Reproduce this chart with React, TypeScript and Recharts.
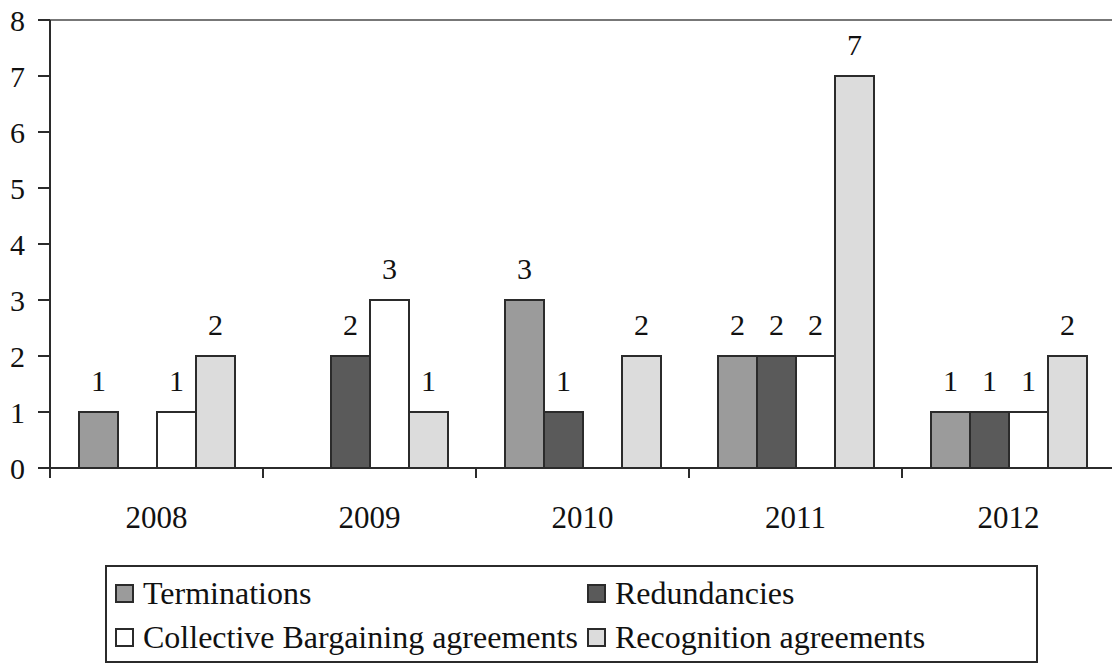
import { Bar, BarChart, LabelList, Legend, ReferenceLine, XAxis, YAxis } from 'recharts'

const years = ['2008', '2009', '2010', '2011', '2012']
const terminations = [1, 0, 3, 2, 1]
const redundancies = [0, 2, 1, 2, 1]
const collective = [1, 3, 0, 2, 1]
const recognition = [2, 1, 2, 7, 2]
const yTicks = [0, 1, 2, 3, 4, 5, 6, 7, 8]

const series = [
  { key: 'terminations', name: 'Terminations', fill: '#9b9b9b' },
  { key: 'redundancies', name: 'Redundancies', fill: '#5a5a5a' },
  { key: 'collective', name: 'Collective Bargaining agreements', fill: '#ffffff' },
  { key: 'recognition', name: 'Recognition agreements', fill: '#dcdcdc' },
]

const data = years.map((year, i) => ({
  year,
  terminations: terminations[i],
  redundancies: redundancies[i],
  collective: collective[i],
  recognition: recognition[i],
}))

const FONT = "'Liberation Serif', Tinos, 'Times New Roman', Times, 'DejaVu Serif', serif"
const INK = '#2b2b2b'

const CHART_W = 1115
const Y_AXIS_W = 50
const BAND = (CHART_W - Y_AXIS_W) / years.length

function YearTick(props: any) {
  const { x, y, payload, index } = props
  return (
    <g>
      {index === 0 && (
        <line x1={x - BAND / 2} x2={x - BAND / 2} y1={y} y2={y + 10} stroke={INK} strokeWidth={2} />
      )}
      <line x1={x + BAND / 2} x2={x + BAND / 2} y1={y} y2={y + 10} stroke={INK} strokeWidth={2} />
      <text x={x} y={y + 60} textAnchor="middle" style={{ fontSize: 31, fontFamily: FONT }} fill="#111">
        {payload.value}
      </text>
    </g>
  )
}

function LegendBox() {
  const cols = [8, 480]
  return (
    <div
      style={{
        position: 'relative',
        width: 933,
        height: 98,
        boxSizing: 'border-box',
        border: `2px solid ${INK}`,
        background: '#fff',
        fontFamily: FONT,
        fontSize: 32,
        color: '#111',
      }}
    >
      {series.map((s, i) => (
        <div
          key={s.key}
          style={{
            position: 'absolute',
            left: cols[i % 2],
            top: i < 2 ? 6 : 50,
            height: 40,
            display: 'flex',
            alignItems: 'center',
            whiteSpace: 'nowrap',
          }}
        >
          <span
            style={{
              display: 'inline-block',
              width: 19,
              height: 19,
              boxSizing: 'border-box',
              border: `2px solid ${INK}`,
              background: s.fill,
              marginRight: 9,
            }}
          />
          {s.name}
        </div>
      ))}
    </div>
  )
}

export default function App() {
  return (
    <div
      style={{
        position: 'absolute',
        left: 0,
        top: 0,
        width: 1112,
        height: 665,
        overflow: 'hidden',
        background: '#fff',
        fontFamily: FONT,
      }}
    >
      <BarChart
        width={CHART_W}
        height={665}
        data={data}
        margin={{ top: 20, right: 0, bottom: 0, left: 0 }}
        barSize={39}
        barGap={0}
        style={{ fontFamily: FONT }}
      >
        <XAxis
          dataKey="year"
          height={197}
          tickLine={false}
          tickSize={0}
          tickMargin={0}
          axisLine={{ stroke: INK, strokeWidth: 2 }}
          tick={<YearTick />}
          interval={0}
        />
        <YAxis
          width={Y_AXIS_W}
          domain={[0, 8]}
          ticks={yTicks}
          interval={0}
          tickSize={12}
          tickMargin={13}
          axisLine={{ stroke: INK, strokeWidth: 2 }}
          tickLine={{ stroke: INK, strokeWidth: 2 }}
          tick={{ fontSize: 30, fontFamily: FONT, fill: '#111' }}
        />
        <ReferenceLine y={8} stroke="#777" strokeWidth={2} />
        {series.map((s) => (
          <Bar
            key={s.key}
            dataKey={s.key}
            name={s.name}
            fill={s.fill}
            stroke={INK}
            strokeWidth={2}
            isAnimationActive={false}
          >
            <LabelList
              dataKey={s.key}
              position="top"
              offset={21}
              fontSize={30}
              fontFamily={FONT}
              fill="#111"
            />
          </Bar>
        ))}
        <Legend
          layout="horizontal"
          verticalAlign="middle"
          align="center"
          wrapperStyle={{ left: 105, top: 565, width: 933, height: 98 }}
          content={() => <LegendBox />}
        />
      </BarChart>
    </div>
  )
}
